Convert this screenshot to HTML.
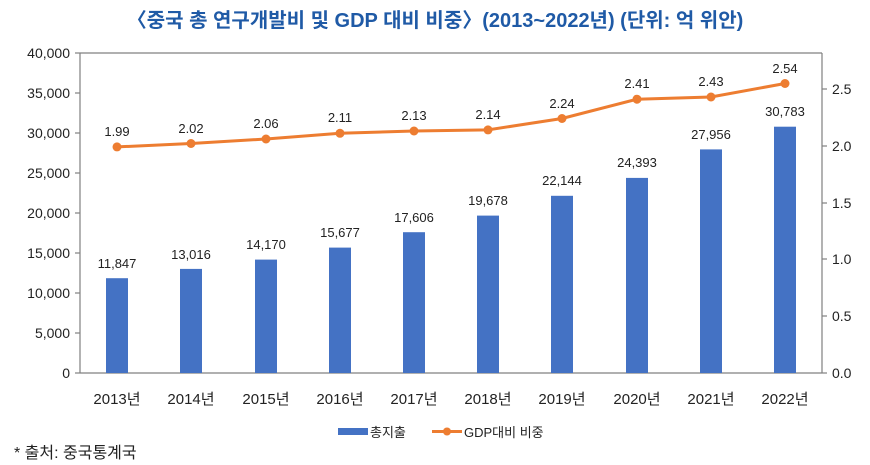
<!DOCTYPE html>
<html><head><meta charset="utf-8"><style>
body{margin:0;width:870px;height:465px;background:#fff;overflow:hidden}
svg{display:block}
text{font-family:"Liberation Sans","Noto Sans CJK KR",sans-serif;fill:#222}
</style></head><body>
<svg width="870" height="465" viewBox="0 0 870 465">
<text x="435" y="27" text-anchor="middle" font-size="20" font-weight="bold" style="fill:#1f5aa6">〈중국 총 연구개발비 및 GDP 대비 비중〉(2013~2022년) (단위: 억 위안)</text>
<g stroke="#808080" stroke-width="1.2" fill="none">
<line x1="80" y1="53" x2="822" y2="53"/>
<line x1="80" y1="53" x2="80" y2="373"/>
<line x1="822" y1="53" x2="822" y2="373"/>
<line x1="80" y1="373" x2="822" y2="373"/>
<line x1="75" y1="53" x2="80" y2="53"/><line x1="75" y1="93" x2="80" y2="93"/><line x1="75" y1="133" x2="80" y2="133"/><line x1="75" y1="173" x2="80" y2="173"/><line x1="75" y1="213" x2="80" y2="213"/><line x1="75" y1="253" x2="80" y2="253"/><line x1="75" y1="293" x2="80" y2="293"/><line x1="75" y1="333" x2="80" y2="333"/><line x1="75" y1="373" x2="80" y2="373"/>
<line x1="822" y1="89" x2="827" y2="89"/><line x1="822" y1="146" x2="827" y2="146"/><line x1="822" y1="203" x2="827" y2="203"/><line x1="822" y1="259" x2="827" y2="259"/><line x1="822" y1="316" x2="827" y2="316"/><line x1="822" y1="373" x2="827" y2="373"/>
</g>
<g font-size="14" text-anchor="end">
<text x="70" y="58">40,000</text><text x="70" y="98">35,000</text><text x="70" y="138">30,000</text><text x="70" y="178">25,000</text><text x="70" y="218">20,000</text><text x="70" y="258">15,000</text><text x="70" y="298">10,000</text><text x="70" y="338">5,000</text><text x="70" y="378">0</text>
</g>
<g font-size="14">
<text x="832" y="94">2.5</text><text x="832" y="151">2.0</text><text x="832" y="208">1.5</text><text x="832" y="264">1.0</text><text x="832" y="321">0.5</text><text x="832" y="378">0.0</text>
</g>
<g fill="#4472c4">
<rect x="106" y="278.2" width="22" height="94.8"/>
<rect x="180" y="268.9" width="22" height="104.1"/>
<rect x="255" y="259.6" width="22" height="113.4"/>
<rect x="329" y="247.6" width="22" height="125.4"/>
<rect x="403" y="232.2" width="22" height="140.8"/>
<rect x="477" y="215.6" width="22" height="157.4"/>
<rect x="551" y="195.8" width="22" height="177.2"/>
<rect x="626" y="177.9" width="22" height="195.1"/>
<rect x="700" y="149.4" width="22" height="223.6"/>
<rect x="774" y="126.7" width="22" height="246.3"/>
</g>
<g font-size="13" text-anchor="middle">
<text x="117" y="268">11,847</text><text x="191" y="259">13,016</text><text x="266" y="249">14,170</text><text x="340" y="237">15,677</text><text x="414" y="222">17,606</text><text x="488" y="205">19,678</text><text x="562" y="185">22,144</text><text x="637" y="167">24,393</text><text x="711" y="139">27,956</text><text x="785" y="116">30,783</text>
</g>
<polyline fill="none" stroke="#ed7d31" stroke-width="3" points="117,146.9 191,143.5 266,139 340,133.3 414,131 488,129.9 562,118.5 637,99.2 711,97 785,83.5"/>
<g fill="#ed7d31">
<circle cx="117" cy="146.9" r="4.5"/><circle cx="191" cy="143.5" r="4.5"/><circle cx="266" cy="139" r="4.5"/><circle cx="340" cy="133.3" r="4.5"/><circle cx="414" cy="131" r="4.5"/><circle cx="488" cy="129.9" r="4.5"/><circle cx="562" cy="118.5" r="4.5"/><circle cx="637" cy="99.2" r="4.5"/><circle cx="711" cy="97" r="4.5"/><circle cx="785" cy="83.5" r="4.5"/>
</g>
<g font-size="13" text-anchor="middle">
<text x="117" y="136">1.99</text><text x="191" y="133">2.02</text><text x="266" y="128">2.06</text><text x="340" y="122">2.11</text><text x="414" y="120">2.13</text><text x="488" y="119">2.14</text><text x="562" y="108">2.24</text><text x="637" y="88">2.41</text><text x="711" y="86">2.43</text><text x="785" y="73">2.54</text>
</g>
<g font-size="15" text-anchor="middle">
<text x="117" y="404">2013년</text><text x="191" y="404">2014년</text><text x="266" y="404">2015년</text><text x="340" y="404">2016년</text><text x="414" y="404">2017년</text><text x="488" y="404">2018년</text><text x="562" y="404">2019년</text><text x="637" y="404">2020년</text><text x="711" y="404">2021년</text><text x="785" y="404">2022년</text>
</g>
<rect x="338" y="428" width="30" height="7" fill="#4472c4"/>
<text x="370" y="437" font-size="13">총지출</text>
<line x1="432" y1="431.5" x2="462" y2="431.5" stroke="#ed7d31" stroke-width="3"/>
<circle cx="447" cy="431.5" r="4" fill="#ed7d31"/>
<text x="464" y="437" font-size="13">GDP대비 비중</text>
<text x="14" y="458" font-size="16">* 출처: 중국통계국</text>
</svg>
</body></html>
